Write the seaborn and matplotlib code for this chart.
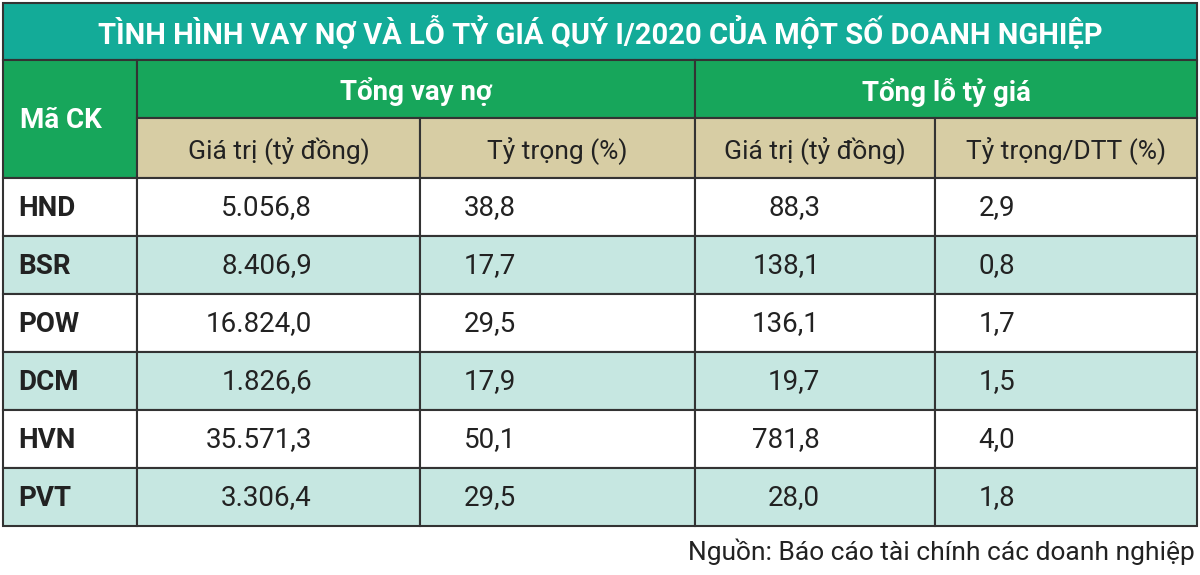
import matplotlib
matplotlib.use("Agg")
import matplotlib.pyplot as plt
import seaborn as sns
from matplotlib.patches import Rectangle

sns.set_theme(style="white")
FONT = ['Liberation Sans Narrow', 'Roboto', 'DejaVu Sans']
plt.rcParams['font.family'] = FONT

title = "TÌNH HÌNH VAY NỢ VÀ LỖ TỶ GIÁ QUÝ I/2020 CỦA MỘT SỐ DOANH NGHIỆP"
groups = ["Tổng vay nợ", "Tổng lỗ tỷ giá"]
subheaders = ["Giá trị (tỷ đồng)", "Tỷ trọng (%)", "Giá trị (tỷ đồng)", "Tỷ trọng/DTT (%)"]
codes = ["HND", "BSR", "POW", "DCM", "HVN", "PVT"]
debt_value = ["5.056,8", "8.406,9", "16.824,0", "1.826,6", "35.571,3", "3.306,4"]
debt_share = ["38,8", "17,7", "29,5", "17,9", "50,1", "29,5"]
loss_value = ["88,3", "138,1", "136,1", "19,7", "781,8", "28,0"]
loss_share = ["2,9", "0,8", "1,7", "1,5", "4,0", "1,8"]
source = "Nguồn: Báo cáo tài chính các doanh nghiệp"

TEAL = "#13ab98"; GREEN = "#17a65b"; BEIGE = "#d7cda4"; LIGHT = "#c6e7e1"; LINE = "#333333"

fig = plt.figure(figsize=(12, 5.75), dpi=100)
ax = fig.add_axes([0, 0, 1, 1])
ax.set_xlim(0, 1200); ax.set_ylim(575, 0); ax.axis("off")

def rect(x0, y0, x1, y1, c):
    ax.add_patch(Rectangle((x0, y0), x1 - x0, y1 - y0, facecolor=c, edgecolor=LINE, lw=1.5))

L, R = 3, 1197
xs = [L, 137, 420, 695, 935, R]
rect(L, 3, R, 60, TEAL)
ax.text(600, 33, title, color="white", fontsize=21, fontweight="bold", ha="center", va="center")
rect(L, 60, 137, 178, GREEN)
ax.text(20, 120, "Mã CK", color="white", fontsize=20, fontweight="bold", ha="left", va="center")
rect(137, 60, 695, 118, GREEN); rect(695, 60, R, 118, GREEN)
for i, g in enumerate(groups):
    ax.text((xs[1 + 2 * i] + xs[3 + 2 * i]) / 2, 92, g, color="white", fontsize=20, fontweight="bold", ha="center", va="center")
for i, s in enumerate(subheaders):
    rect(xs[i + 1], 118, xs[i + 2], 178, BEIGE)
    ax.text((xs[i + 1] + xs[i + 2]) / 2, 150, s, color="#222222", fontsize=19, ha="center", va="center")

cols = [debt_value, debt_share, loss_value, loss_share]
rights = [312, 516, 820, 1015]
rh = 58
for r, code in enumerate(codes):
    y0 = 178 + r * rh
    c = "white" if r % 2 == 0 else LIGHT
    for i in range(5):
        rect(xs[i], y0, xs[i + 1], y0 + rh, c)
    yc = y0 + rh / 2 + 1
    ax.text(18, yc, code, color="#222222", fontsize=20, fontweight="bold", ha="left", va="center")
    for j, col in enumerate(cols):
        ax.text(rights[j], yc, col[r], color="#222222", fontsize=20, ha="right", va="center")

ax.text(1195, 552, source, color="#222222", fontsize=19, ha="right", va="center")
fig.savefig("out.png", dpi=100)
